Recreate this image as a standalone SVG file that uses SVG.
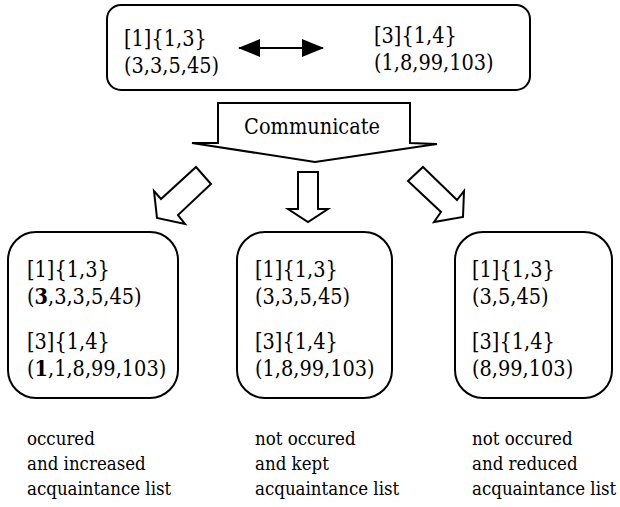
<svg xmlns="http://www.w3.org/2000/svg" width="620" height="507" viewBox="0 0 620 507">
<style>
  text { font-family: "DejaVu Serif Condensed", "DejaVu Serif", serif; font-stretch: condensed; fill: #000; }
  .t { font-size: 21.5px; }
  .cap { font-size: 18.5px; }
  .box { fill: #fff; stroke: #000; stroke-width: 2; }
  .hollow { fill: #fff; stroke: #000; stroke-width: 2; stroke-linejoin: miter; }
  .line { stroke: #000; stroke-width: 2; fill: none; }
  .b { font-weight: bold; }
</style>
<defs>
  <marker id="head" viewBox="0 0 22 18" refX="21" refY="9" markerWidth="22" markerHeight="18" markerUnits="userSpaceOnUse" orient="auto-start-reverse">
    <path d="M0,0 L22,9 L0,18 Z" fill="#000"/>
  </marker>
</defs>

<g id="top-node">
  <rect class="box" x="107" y="5" width="423" height="85" rx="14"/>
  <text class="t" x="124" y="46">[1]{1,3}</text>
  <text class="t" x="124" y="73">(3,3,5,45)</text>
  <text class="t" x="374" y="43">[3]{1,4}</text>
  <text class="t" x="374" y="70">(1,8,99,103)</text>
</g>

<g id="connectors">
  <line class="line" x1="239" y1="48" x2="323" y2="48" marker-start="url(#head)" marker-end="url(#head)"/>
  <path class="hollow" d="M218,103 L410,103 L410,143 L437,144 L315,162 L192,143 L218,143 Z"/>
  <path class="hollow" d="M196,167 L211,184 L178,215 L185,224 L157,218 L154,191 L161,199 Z"/>
  <path class="hollow" d="M298,172 L318,172 L318,209 L328,209 L308,222 L288,209 L298,209 Z"/>
  <path class="hollow" d="M423,167 L457,200 L464,191 L463,217 L434,222 L441,212 L408,181 Z"/>
</g>

<g id="communicate-label">
  <text class="t" x="312" y="134" text-anchor="middle">Communicate</text>
</g>

<g id="node-left">
  <rect class="box" x="8" y="232" width="170" height="166" rx="28"/>
  <text class="t" x="27" y="277">[1]{1,3}</text>
  <text class="t" x="27" y="304">(<tspan class="b">3</tspan>,3,3,5,45)</text>
  <text class="t" x="27" y="349">[3]{1,4}</text>
  <text class="t" x="27" y="376">(<tspan class="b">1</tspan>,1,8,99,103)</text>
</g>

<g id="node-middle">
  <rect class="box" x="237" y="232" width="155" height="166" rx="28"/>
  <text class="t" x="255" y="277">[1]{1,3}</text>
  <text class="t" x="255" y="304">(3,3,5,45)</text>
  <text class="t" x="255" y="349">[3]{1,4}</text>
  <text class="t" x="255" y="376">(1,8,99,103)</text>
</g>

<g id="node-right">
  <rect class="box" x="455" y="232" width="157" height="166" rx="28"/>
  <text class="t" x="472" y="277">[1]{1,3}</text>
  <text class="t" x="472" y="304">(3,5,45)</text>
  <text class="t" x="472" y="349">[3]{1,4}</text>
  <text class="t" x="472" y="376">(8,99,103)</text>
</g>

<g id="captions">
  <text class="cap" x="27" y="445">occured</text>
  <text class="cap" x="27" y="470">and increased</text>
  <text class="cap" x="27" y="495">acquaintance list</text>
  <text class="cap" x="255" y="445">not occured</text>
  <text class="cap" x="255" y="470">and kept</text>
  <text class="cap" x="255" y="495">acquaintance list</text>
  <text class="cap" x="472" y="445">not occured</text>
  <text class="cap" x="472" y="470">and reduced</text>
  <text class="cap" x="472" y="495">acquaintance list</text>
</g>
</svg>
